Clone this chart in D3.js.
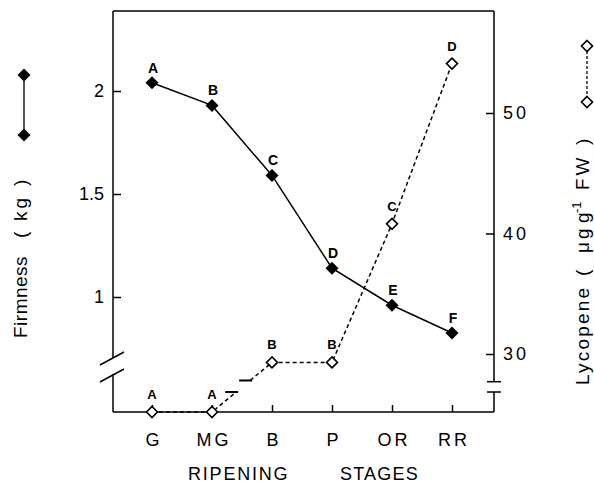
<!DOCTYPE html>
<html><head><meta charset="utf-8">
<script src="https://cdn.jsdelivr.net/npm/d3@7"></script>
<style>body{margin:0;background:#fff}svg{display:block}text{font-family:"Liberation Sans",Arial,sans-serif;fill:#000}</style>
</head><body>
<script>
// ---- data ----
const stages = ["G", "MG", "B", "P", "OR", "RR"];
const firmness = [2.04, 1.93, 1.59, 1.14, 0.96, 0.825];
const firmLetters = ["A", "B", "C", "D", "E", "F"];
const lycopene = [0, 0, 29.3, 29.3, 40.8, 54.1];
const lycLetters = ["A", "A", "B", "B", "C", "D"];
const firmTicks = [1, 1.5, 2];
const lycTicks = [30, 40, 50];

const W = 594, H = 493;
const L = 113, R = 494, T = 11, B = 412;
const svg = d3.select("body").append("svg").attr("width", W).attr("height", H);

const x = d3.scalePoint().domain(stages).range([152, 452]);
const yF = d3.scaleLinear().domain([1, 2]).range([297, 91]);
// broken lycopene axis: piecewise scale (0..2 below break, 27.7.. above)
const yL = d3.scaleLinear().domain([0, 2, 27.7, 30, 50]).range([B, 392, 381.7, 354, 113]);

const ink = "#000";
// frame lines
const g = svg.append("g").attr("stroke", ink).attr("stroke-width", 1.5).attr("fill", "none");
g.append("line").attr("x1", L).attr("x2", R).attr("y1", T).attr("y2", T);
g.append("line").attr("x1", L).attr("x2", R).attr("y1", B).attr("y2", B);
// left axis with break
g.append("line").attr("x1", L).attr("x2", L).attr("y1", T).attr("y2", 358);
g.append("line").attr("x1", L).attr("x2", L).attr("y1", 374).attr("y2", B);
g.append("line").attr("x1", 100).attr("y1", 365).attr("x2", 124).attr("y2", 352);
g.append("line").attr("x1", 100).attr("y1", 382).attr("x2", 124).attr("y2", 369);
// right axis with break
const rbHi = yL(27.7), rbLo = yL(2);
g.append("line").attr("x1", R).attr("x2", R).attr("y1", T).attr("y2", rbHi);
g.append("line").attr("x1", R).attr("x2", R).attr("y1", rbLo).attr("y2", B);
g.append("line").attr("x1", R - 7).attr("x2", R + 7).attr("y1", rbHi).attr("y2", rbHi);
g.append("line").attr("x1", R - 7).attr("x2", R + 7).attr("y1", rbLo).attr("y2", rbLo);

// axes
const axL = svg.append("g").attr("transform", `translate(${L},0)`)
  .call(d3.axisLeft(yF).tickValues(firmTicks).tickFormat(d3.format("")).tickSizeInner(-8).tickSizeOuter(0).tickPadding(9));
axL.select(".domain").remove();
axL.selectAll("line").attr("stroke", ink).attr("stroke-width", 1.5);
axL.selectAll("text").attr("font-size", 18).attr("font-family", "Liberation Sans, Arial, sans-serif");

const axR = svg.append("g").attr("transform", `translate(${R},0)`)
  .call(d3.axisRight(yL).tickValues(lycTicks).tickFormat(d3.format("")).tickSizeInner(-8).tickSizeOuter(0).tickPadding(9));
axR.select(".domain").remove();
axR.selectAll("line").attr("stroke", ink).attr("stroke-width", 1.5);
axR.selectAll("text").attr("font-size", 18).attr("letter-spacing", 3).attr("font-family", "Liberation Sans, Arial, sans-serif");

const axB = svg.append("g").attr("transform", `translate(0,${B})`)
  .call(d3.axisBottom(x).tickSizeInner(-7).tickSizeOuter(0).tickPadding(21));
axB.select(".domain").remove();
axB.selectAll("line").attr("stroke", ink).attr("stroke-width", 1.5);
axB.selectAll("text").attr("font-size", 18).attr("letter-spacing", 3).attr("dx", 1.5)
  .attr("font-family", "Liberation Sans, Arial, sans-serif");

// firmness line
const pts = stages.map((s, i) => ({s, f: firmness[i], l: lycopene[i], fl: firmLetters[i], ll: lycLetters[i]}));
svg.append("path").datum(pts)
  .attr("d", d3.line().x(d => x(d.s)).y(d => yF(d.f)))
  .attr("fill", "none").attr("stroke", ink).attr("stroke-width", 1.5);

// lycopene dashed line with break between MG and B
const dash = "4,3";
const pMG = [x("MG"), yL(lycopene[1])], pB = [x("B"), yL(lycopene[2])];
const atY = (p, q, yy) => [p[0] + (q[0] - p[0]) * (yy - p[1]) / (q[1] - p[1]), yy];
const cutLo = atY(pMG, pB, rbLo), cutHi = atY(pMG, pB, yL(27.8));
const line = d3.line();
svg.append("path").attr("d", line([[x("G"), yL(lycopene[0])], pMG, cutLo]))
  .attr("fill", "none").attr("stroke", ink).attr("stroke-width", 1.5).attr("stroke-dasharray", dash);
svg.append("path").attr("d", line([cutHi, ...pts.slice(2).map(d => [x(d.s), yL(d.l)])]))
  .attr("fill", "none").attr("stroke", ink).attr("stroke-width", 1.5).attr("stroke-dasharray", dash);
svg.append("line").attr("x1", cutLo[0] - 11).attr("x2", cutLo[0] + 2).attr("y1", cutLo[1]).attr("y2", cutLo[1])
  .attr("stroke", ink).attr("stroke-width", 2);
svg.append("line").attr("x1", cutHi[0] - 11).attr("x2", cutHi[0] + 2).attr("y1", cutHi[1]).attr("y2", cutHi[1])
  .attr("stroke", ink).attr("stroke-width", 2);

const diamond = (cx, cy, r = 6) => `M${cx},${cy - r}L${cx + r},${cy}L${cx},${cy + r}L${cx - r},${cy}Z`;

// firmness markers & letters
svg.append("g").selectAll("path").data(pts).join("path")
  .attr("d", d => diamond(x(d.s), yF(d.f), 6.5)).attr("fill", ink);
svg.append("g").selectAll("text").data(pts).join("text")
  .attr("x", d => x(d.s) + 1).attr("y", d => yF(d.f) - 10)
  .attr("text-anchor", "middle").attr("font-size", 14).attr("font-weight", "bold").text(d => d.fl);

// lycopene markers & letters
svg.append("g").selectAll("path").data(pts).join("path")
  .attr("d", d => diamond(x(d.s), yL(d.l), 5.5)).attr("fill", "#fff").attr("stroke", ink).attr("stroke-width", 1.6);
svg.append("g").selectAll("text").data(pts).join("text")
  .attr("x", d => x(d.s)).attr("y", d => yL(d.l) - 13)
  .attr("text-anchor", "middle").attr("font-size", 13).attr("font-weight", "900").text(d => d.ll);

// x axis title
svg.append("text").attr("x", 188).attr("y", 480).attr("font-size", 18).attr("letter-spacing", 1.8).text("RIPENING");
svg.append("text").attr("x", 340).attr("y", 480).attr("font-size", 18).attr("letter-spacing", 1.2).text("STAGES");

// left title (rotated)
const lt = svg.append("text").attr("transform", "translate(27,0) rotate(-90)").attr("font-size", 19);
lt.append("tspan").attr("x", -338).attr("letter-spacing", 0.5).text("Firmness");
lt.append("tspan").attr("x", -238).text("(");
lt.append("tspan").attr("x", -221).attr("letter-spacing", 3).text("kg");
lt.append("tspan").attr("x", -186).text(")");

// right title (rotated)
const rt = svg.append("text").attr("transform", "translate(589,0) rotate(-90)").attr("font-size", 19);
rt.append("tspan").attr("x", -385).attr("letter-spacing", 2.2).text("Lycopene");
rt.append("tspan").attr("x", -276).text("(");
rt.append("tspan").attr("x", -253).attr("letter-spacing", 3).text("μg");
rt.append("tspan").attr("x", -223).text("g");
rt.append("tspan").attr("x", -213).attr("dy", -8).attr("font-size", 13).text("-1");
rt.append("tspan").attr("x", -190).attr("dy", 8).attr("letter-spacing", 3).text("FW");
rt.append("tspan").attr("x", -145).text(")");

// legend keys
const lg = svg.append("g");
lg.append("line").attr("x1", 24).attr("x2", 24).attr("y1", 75).attr("y2", 135).attr("stroke", ink).attr("stroke-width", 1.3);
lg.append("path").attr("d", diamond(24, 75, 6.5)).attr("fill", ink);
lg.append("path").attr("d", diamond(24, 135, 6.5)).attr("fill", ink);
lg.append("line").attr("x1", 587).attr("x2", 587).attr("y1", 46).attr("y2", 102).attr("stroke", ink).attr("stroke-width", 1.3).attr("stroke-dasharray", "3,2");
lg.append("path").attr("d", diamond(587, 46, 5.5)).attr("fill", "#fff").attr("stroke", ink).attr("stroke-width", 1.6);
lg.append("path").attr("d", diamond(587, 102, 5.5)).attr("fill", "#fff").attr("stroke", ink).attr("stroke-width", 1.6);
</script>
</body></html>
